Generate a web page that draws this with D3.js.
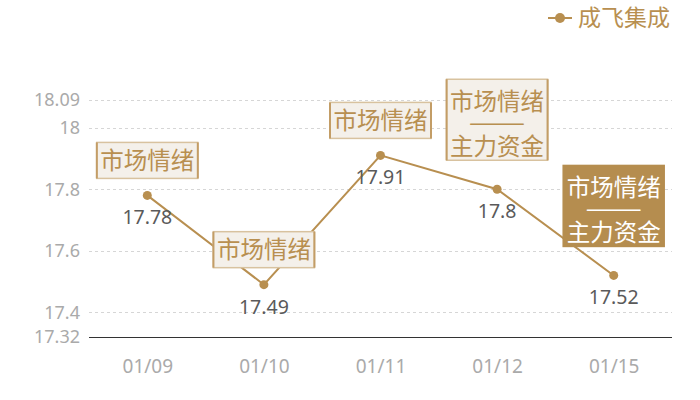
<!DOCTYPE html>
<html>
<head>
<meta charset="utf-8">
<script src="https://cdn.jsdelivr.net/npm/d3@7"></script>
<style>
  body { margin: 0; background: #fff; }
  svg { display: block; font-family: "Noto Sans CJK SC", "Noto Sans", sans-serif; }
</style>
</head>
<body>
<div id="chart"></div>
<script>
(function () {
    'use strict';

    var dates = ['01/09', '01/10', '01/11', '01/12', '01/15'];
    var prices = [17.78, 17.49, 17.91, 17.8, 17.52];
    var yTicks = [17.32, 17.4, 17.6, 17.8, 18, 18.09];
    var seriesName = '成飞集成';
    // tags shown above each point; the last one is highlighted
    var tags = [
        ['市场情绪'],
        ['市场情绪'],
        ['市场情绪'],
        ['市场情绪', '——', '主力资金'],
        ['市场情绪', '——', '主力资金']
    ];
    var highlighted = [false, false, false, false, true];

    var width = 700;
    var height = 400;
    var gold = '#b88f50';
    var numFont = '"Noto Sans", "Open Sans", sans-serif';

    var svg = d3.select('#chart').append('svg')
        .attr('width', width)
        .attr('height', height);

    var x = d3.scalePoint()
        .domain(dates)
        .range([89, 672])
        .padding(0.5);

    var y = d3.scaleLinear()
        .domain([17.32, 18.09])
        .range([337, 100]);

    // grid lines
    svg.append('g')
        .selectAll('line')
        .data(yTicks)
        .enter()
        .append('line')
        .attr('x1', 89)
        .attr('x2', 672)
        .attr('y1', function (d) { return Math.round(y(d)) + 0.5; })
        .attr('y2', function (d) { return Math.round(y(d)) + 0.5; })
        .attr('stroke', function (d, i) { return i === 0 ? '#333' : '#d6d6d6'; })
        .attr('stroke-width', 1)
        .attr('stroke-dasharray', function (d, i) { return i === 0 ? null : '3,3'; });

    // y axis labels
    var yAxis = d3.axisLeft(y).tickValues(yTicks).tickSize(0).tickPadding(9)
        .tickFormat(function (d) { return String(d); });
    var yg = svg.append('g').attr('transform', 'translate(89,0)').call(yAxis);
    yg.select('.domain').remove();
    yg.selectAll('text')
        .attr('fill', '#aaa')
        .style('font-size', '18px')
        .style('font-family', numFont);

    // x axis labels
    var xAxis = d3.axisBottom(x).tickSize(0).tickPadding(23);
    var xg = svg.append('g').attr('transform', 'translate(0,337)').call(xAxis);
    xg.select('.domain').remove();
    xg.selectAll('text')
        .attr('fill', '#aaa')
        .style('font-size', '19px')
        .style('font-family', numFont);

    var points = dates.map(function (d, i) {
        return { date: d, value: prices[i], tags: tags[i], hi: highlighted[i] };
    });

    // line
    var line = d3.line()
        .x(function (d) { return x(d.date); })
        .y(function (d) { return y(d.value); });

    svg.append('path')
        .datum(points)
        .attr('d', line)
        .attr('fill', 'none')
        .attr('stroke', gold)
        .attr('stroke-width', 2);

    svg.append('g')
        .selectAll('circle')
        .data(points)
        .enter()
        .append('circle')
        .attr('cx', function (d) { return x(d.date); })
        .attr('cy', function (d) { return y(d.value); })
        .attr('r', 4.5)
        .attr('fill', gold);

    // value labels
    svg.append('g')
        .selectAll('text')
        .data(points)
        .enter()
        .append('text')
        .attr('x', function (d) { return x(d.date); })
        .attr('y', function (d) { return y(d.value) + 29; })
        .attr('text-anchor', 'middle')
        .attr('fill', '#5a5a5a')
        .style('font-size', '19.5px')
        .style('font-family', numFont)
        .text(function (d) { return String(d.value); });

    // tag boxes
    var boxW = 101;
    var tagG = svg.append('g')
        .selectAll('g')
        .data(points)
        .enter()
        .append('g')
        .attr('transform', function (d) {
            var h = d.tags.length === 1 ? 36 : 81;
            var gap = d.tags.length === 1 ? 17 : 29;
            var top = y(d.value) - gap - h;
            return 'translate(' + (x(d.date) - boxW / 2) + ',' + top + ')';
        });

    tagG.append('rect')
        .attr('width', boxW)
        .attr('height', function (d) { return d.tags.length === 1 ? 36 : 81; })
        .attr('fill', function (d) { return d.hi ? '#b58d4f' : '#f4f0ea'; })
        .attr('stroke', function (d) { return d.hi ? '#b58d4f' : '#d8c29f'; })
        .attr('stroke-width', 1.5);

    // darker side edges on the light boxes
    tagG.filter(function (d) { return !d.hi; })
        .each(function (d) {
            var h = d.tags.length === 1 ? 36 : 81;
            var g = d3.select(this);
            [0, boxW].forEach(function (sx) {
                g.append('line')
                    .attr('x1', sx).attr('x2', sx)
                    .attr('y1', 0).attr('y2', h)
                    .attr('stroke', '#c39d66')
                    .attr('stroke-width', 2);
            });
        });

    tagG.each(function (d) {
        var g = d3.select(this);
        var col = d.hi ? '#fff' : '#b88f50';
        if (d.tags.length === 1) {
            g.append('text')
                .attr('x', boxW / 2)
                .attr('y', 26.5)
                .attr('text-anchor', 'middle')
                .attr('fill', col)
                .style('font-size', '23.5px')
                .text(d.tags[0]);
            return;
        }
        g.append('text')
            .attr('x', boxW / 2)
            .attr('y', 30.5)
            .attr('text-anchor', 'middle')
            .attr('fill', col)
            .style('font-size', '23.5px')
            .text(d.tags[0]);
        // separator dash, small font stretched to width
        g.append('text')
            .attr('x', boxW / 2)
            .attr('y', 46.5)
            .attr('text-anchor', 'middle')
            .attr('fill', col)
            .attr('stroke', col)
            .attr('stroke-width', 1)
            .attr('textLength', 52)
            .attr('lengthAdjust', 'spacingAndGlyphs')
            .style('font-size', '7px')
            .text(d.tags[1]);
        g.append('text')
            .attr('x', boxW / 2)
            .attr('y', 76)
            .attr('text-anchor', 'middle')
            .attr('fill', col)
            .style('font-size', '23.5px')
            .text(d.tags[2]);
    });

    // legend
    var legend = svg.append('g').attr('transform', 'translate(548,18)');
    legend.append('line')
        .attr('x1', 0).attr('x2', 24)
        .attr('y1', 0).attr('y2', 0)
        .attr('stroke', gold)
        .attr('stroke-width', 2);
    legend.append('circle')
        .attr('cx', 12).attr('cy', 0).attr('r', 5)
        .attr('fill', gold);
    legend.append('text')
        .attr('x', 30)
        .attr('y', 8)
        .attr('fill', gold)
        .style('font-size', '23px')
        .text(seriesName);
})();
</script>
</body>
</html>
